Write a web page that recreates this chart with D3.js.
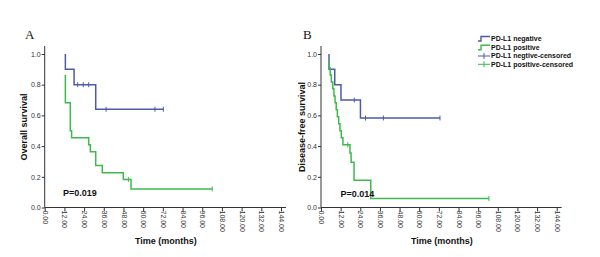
<!DOCTYPE html>
<html lang="en">
<head>
  <meta charset="UTF-8">
  <title>Kaplan-Meier PD-L1</title>
  <script src="https://d3js.org/d3.v7.min.js"></script>
  <style>
    body { margin: 0; background: #fff; }
    .tick text { font-family: "Liberation Sans", Arial, sans-serif; font-size: 7px; fill: #333; }
    .tick line { stroke: #333; }
    .lab { font-family: "Liberation Sans", Arial, sans-serif; font-weight: bold; fill: #111; }
    .letter { font-family: "Liberation Serif", "Times New Roman", serif; font-size: 13px; fill: #111; }
    .curve { fill: none; stroke-width: 1.5px; }
  </style>
</head>
<body>
<div id="chart"></div>
<script>
  var w = 600, h = 257;

  // axis ticks
  var monthTicks = [0, 12, 24, 36, 48, 60, 72, 84, 96, 108, 120, 132, 144];
  var survTicks = [0, 0.2, 0.4, 0.6, 0.8, 1.0];

  // A: overall survival
  var osNegStart = 1.0;
  var osNegTimes = [12.6, 17.9, 31.1];
  var osNegSurv = [0.9, 0.8, 0.64];
  var osNegCensor = [20.1, 23.5, 26.8, 37.4, 67.2, 72.3];

  var osPosStart = 0.864;
  var osPosTimes = [12.6, 15.6, 16.4, 26.8, 27.8, 31.1, 35.1, 47.9, 52.6];
  var osPosSurv = [0.682, 0.5, 0.455, 0.409, 0.364, 0.273, 0.227, 0.182, 0.121];
  var osPosCensor = [51.0, 102.1];

  // B: disease-free survival
  var dfsNegStart = 1.0;
  var dfsNegTimes = [4.9, 8.4, 12.2, 24.1];
  var dfsNegSurv = [0.9, 0.8, 0.7, 0.583];
  var dfsNegCensor = [20.3, 27.2, 38.1, 72.7];

  var dfsPosStart = 0.955;
  var dfsPosTimes = [5.0, 5.6, 6.3, 7.2, 7.9, 8.6, 9.3, 10.0, 10.8, 11.6, 12.4, 13.4, 17.7, 18.4, 20.2, 30.4];
  var dfsPosSurv = [0.909, 0.864, 0.818, 0.773, 0.727, 0.682, 0.636, 0.591, 0.545, 0.5, 0.455, 0.409, 0.355, 0.295, 0.177, 0.059];
  var dfsPosCensor = [16.4, 102.6];

  var blue = "#4a5ca8", green = "#3dba4b";

  var svg = d3.select("#chart").append("svg")
      .attr("width", w).attr("height", h);

  function panel(opt) {
    var x = d3.scaleLinear().domain([0, 144]).range([opt.x0, opt.x1]);
    var y = d3.scaleLinear().domain([0, 1]).range([207.5, 54]);
    var g = svg.append("g");

    // axes
    var ya = g.append("g")
      .attr("transform", "translate(" + opt.x0 + ",0)")
      .call(d3.axisLeft(y).tickValues(survTicks).tickSize(3).tickPadding(1).tickFormat(d3.format(".1f")));
    ya.select(".domain").remove();

    var xa = g.append("g")
      .attr("transform", "translate(0,207.5)")
      .call(d3.axisBottom(x).tickValues(monthTicks).tickSize(4).tickFormat(d3.format(".2f")));
    xa.select(".domain").remove();
    xa.selectAll("text")
      .attr("transform", "rotate(90)")
      .attr("x", 3).attr("y", 0).attr("dy", "0.35em")
      .style("text-anchor", "start");

    g.append("line").attr("x1", opt.x0).attr("x2", opt.x0)
      .attr("y1", 46).attr("y2", 207.5).attr("stroke", "#333");
    g.append("line").attr("x1", opt.x0).attr("x2", x(144) + 5)
      .attr("y1", 207.5).attr("y2", 207.5).attr("stroke", "#333");

    var line = d3.line()
      .x(function(d) { return x(d[0]); })
      .y(function(d) { return y(d[1]); })
      .curve(d3.curveStepAfter);

    opt.curves.forEach(function(c) {
      var pts = [[c.times[0], c.start]];
      c.times.forEach(function(t, i) { pts.push([t, c.surv[i]]); });
      var last = c.censor[c.censor.length - 1];
      pts.push([last, c.surv[c.surv.length - 1]]);

      g.append("path").attr("class", "curve")
        .attr("d", line(pts))
        .attr("stroke", c.color);

      function survAt(t) {
        var s = c.start;
        c.times.forEach(function(tt, i) { if (tt <= t) s = c.surv[i]; });
        return s;
      }

      g.selectAll(null).data(c.censor).enter().append("line")
        .attr("x1", function(d) { return x(d); })
        .attr("x2", function(d) { return x(d); })
        .attr("y1", function(d) { return y(survAt(d)) - 2.5; })
        .attr("y2", function(d) { return y(survAt(d)) + 2.5; })
        .attr("stroke", c.color).attr("stroke-width", 1);
    });

    // labels
    g.append("text").attr("class", "letter")
      .attr("x", opt.letterX).attr("y", 39).text(opt.letter);

    g.append("text").attr("class", "lab")
      .attr("transform", "translate(" + opt.ylabX + ",127) rotate(-90)")
      .attr("text-anchor", "middle").attr("dy", "0.35em")
      .style("font-size", "9px").text(opt.ylab);

    g.append("text").attr("class", "lab")
      .attr("x", (x(0) + x(144)) / 2 + 3).attr("y", 244)
      .attr("text-anchor", "middle").style("font-size", "9px")
      .text("Time (months)");

    g.append("text").attr("class", "lab")
      .attr("x", opt.px).attr("y", opt.py)
      .style("font-size", "9px").text(opt.p);
  }

  panel({
    x0: 44.7, x1: 281, letter: "A", letterX: 25, ylab: "Overall survival", ylabX: 24,
    p: "P=0.019", px: 63, py: 196,
    curves: [
      {start: osNegStart, times: osNegTimes, surv: osNegSurv, censor: osNegCensor, color: blue},
      {start: osPosStart, times: osPosTimes, surv: osPosSurv, censor: osPosCensor, color: green}
    ]
  });

  panel({
    x0: 321, x1: 556.7, letter: "B", letterX: 303, ylab: "Disease-free survival", ylabX: 302,
    p: "P=0.014", px: 340.5, py: 197,
    curves: [
      {start: dfsNegStart, times: dfsNegTimes, surv: dfsNegSurv, censor: dfsNegCensor, color: blue},
      {start: dfsPosStart, times: dfsPosTimes, surv: dfsPosSurv, censor: dfsPosCensor, color: green}
    ]
  });

  // legend
  var legendNames = ["PD-L1 negative", "PD-L1 positive", "PD-L1 negtive-censored", "PD-L1 positive-censored"];
  var legendColors = [blue, green, blue, green];
  var legendY = [39, 47.7, 56, 64.3];

  var lg = svg.append("g");
  legendNames.forEach(function(name, i) {
    var yy = legendY[i];
    if (i < 2) {
      lg.append("path")
        .attr("d", "M478," + (yy + 2) + "h3v-4.5h9")
        .attr("fill", "none").attr("stroke", legendColors[i]).attr("stroke-width", 1.4);
    } else {
      lg.append("path")
        .attr("d", "M478," + yy + "h12M484," + (yy - 3) + "v6")
        .attr("fill", "none").attr("stroke", legendColors[i]).attr("stroke-width", 1);
    }
    lg.append("text").attr("class", "lab")
      .attr("x", 491).attr("y", yy).attr("dy", "0.35em")
      .style("font-size", "7px").text(name);
  });
</script>
</body>
</html>
